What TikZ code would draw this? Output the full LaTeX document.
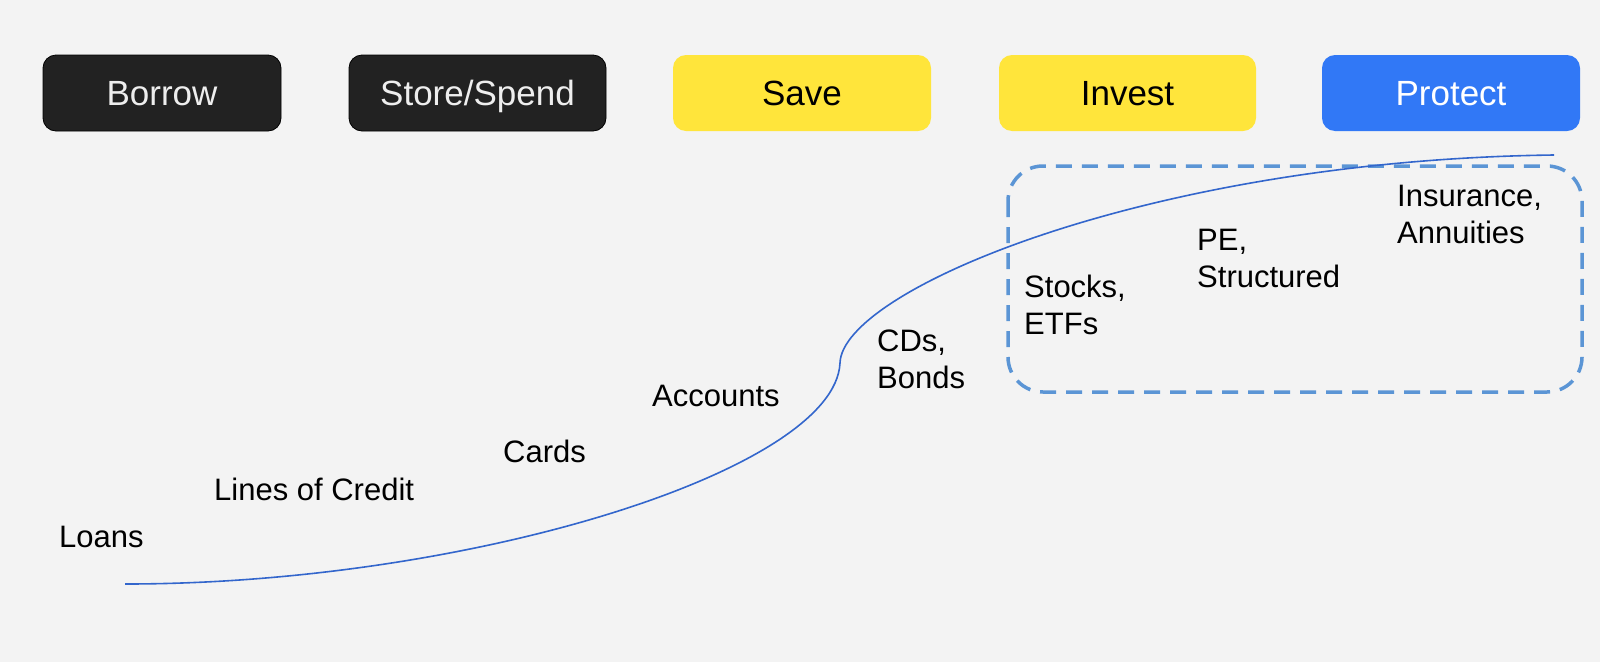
\documentclass[tikz,border=0pt]{standalone}
\usepackage{fontspec}
\setmainfont{Liberation Sans}
\definecolor{bgc}{HTML}{F3F3F3}
\definecolor{darkc}{HTML}{222222}
\definecolor{yelc}{HTML}{FFE53B}
\definecolor{bluec}{HTML}{3178F6}
\definecolor{dashc}{HTML}{5B95D5}
\definecolor{curvec}{HTML}{3366CC}
\definecolor{lighttext}{HTML}{EEEEEE}
\tikzset{
  tab/.style={rounded corners=13pt, minimum height=76pt, inner sep=0pt,
    text height=25pt, text depth=0pt,
    font=\fontsize{35}{40}\selectfont},
  darktab/.style={tab, fill=darkc, draw=black, line width=0.8pt, text=lighttext},
  yeltab/.style={tab, fill=yelc, text=black},
  bluetab/.style={tab, fill=bluec, text=white},
  lbl/.style={inner sep=0pt, anchor=base west, align=left,
    font=\fontsize{31}{36.5}\selectfont},
  groupbox/.style={draw=dashc, line width=3.5pt, dash pattern=on 16pt off 10pt,
    rounded corners=35pt},
  curveline/.style={draw=curvec, line width=1.6pt}
}
\begin{document}
\begin{tikzpicture}[x=1pt,y=-1pt]
\fill[bgc] (0,0) rectangle (1600,662);
\useasboundingbox (0,0) rectangle (1600,662);
% top tabs
\node[darktab, minimum width=238pt] (borrow) at (162,93) {Borrow};
\node[darktab, minimum width=257pt] (store) at (477.5,93) {Store/Spend};
\node[yeltab, minimum width=258pt] (save) at (802,93) {Save};
\node[yeltab, minimum width=257pt] (invest) at (1127.5,93) {Invest};
\node[bluetab, minimum width=258pt] (protect) at (1451,93) {Protect};
% dashed group
\draw[groupbox] (1008,166) rectangle (1582,392);
% curve
\coordinate (c0) at (125,584);
\coordinate (cm) at (840,363);
\coordinate (c1) at (1554,155);
\draw[curveline] (c0) .. controls (470,584) and (835,470) .. (cm)
  .. controls (842,290) and (1150,160) .. (c1);
% labels (base anchor = baseline of last line)
\node[lbl] (loans) at (59,547) {Loans};
\node[lbl] (loc) at (214,500) {Lines of Credit};
\node[lbl] (cards) at (503,462) {Cards};
\node[lbl] (accounts) at (652,406) {Accounts};
\node[lbl] (cds) at (877,388) {CDs,\\Bonds};
\node[lbl] (stocks) at (1024,334) {Stocks,\\ETFs};
\node[lbl] (pe) at (1197,287) {PE,\\Structured};
\node[lbl] (ins) at (1397,243) {Insurance,\\Annuities};
\end{tikzpicture}
\end{document}
